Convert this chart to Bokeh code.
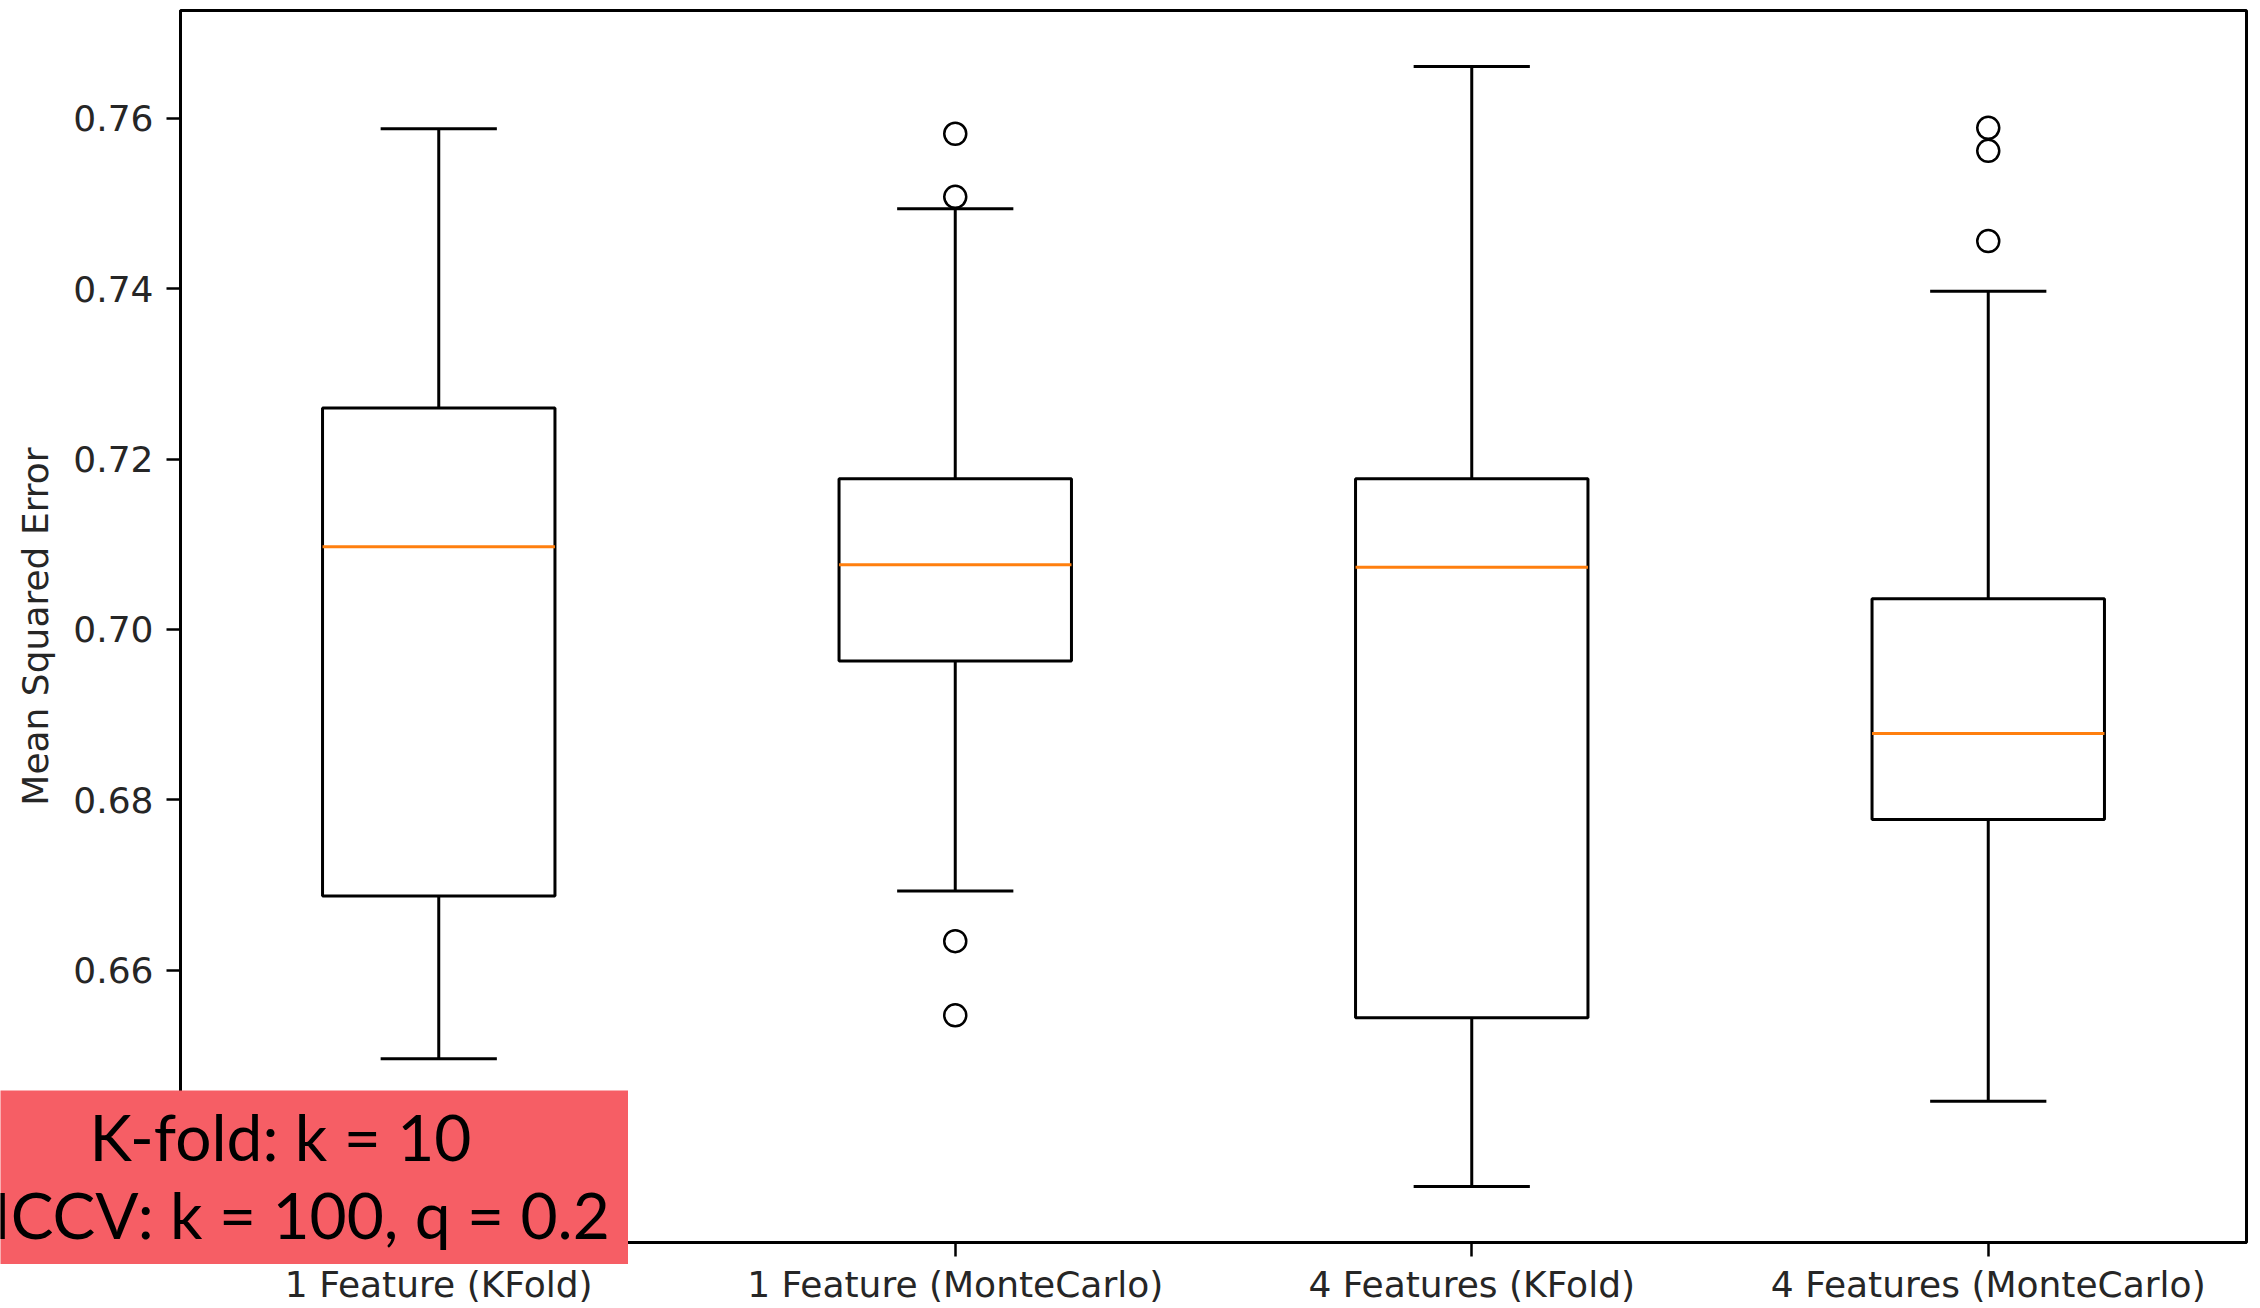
from bokeh.plotting import figure
from bokeh.models import FixedTicker, Label, PrintfTickFormatter
from bokeh.layouts import column
from bokeh.embed import file_html
from bokeh.resources import INLINE

# ---- data (boxplot statistics) ----
categories = ["1 Feature (KFold)", "1 Feature (MonteCarlo)",
              "4 Features (KFold)", "4 Features (MonteCarlo)"]
whisker_low = [0.6496, 0.6693, 0.6346, 0.6446]
q1 = [0.6687, 0.6963, 0.6544, 0.6777]
median = [0.7097, 0.7076, 0.7073, 0.6878]
q3 = [0.7260, 0.7177, 0.7177, 0.7036]
whisker_high = [0.7588, 0.7494, 0.7661, 0.7397]
outlier_group = [2, 2, 2, 2, 4, 4, 4]
outlier_values = [0.7582, 0.7508, 0.6634, 0.6547, 0.7589, 0.7562, 0.7456]
y_ticks = [0.64, 0.66, 0.68, 0.70, 0.72, 0.74, 0.76]
note_lines = ["K-fold: k = 10", "MCCV: k = 100, q = 0.2"]

positions = [i + 1 for i in range(len(categories))]
box_half = 0.225
cap_half = 0.1125

all_vals = whisker_low + whisker_high + outlier_values
lo, hi = min(all_vals), max(all_vals)
pad = 0.05 * (hi - lo)

FONT = "DejaVu Sans"
TXT = "#262626"
FS = "36px"

p = figure(width=2260, height=1308, output_backend="svg", toolbar_location=None,
           x_range=(0.5, 4.5), y_range=(lo - pad, hi + pad),
           min_border_left=180, min_border_right=14, min_border_top=10,
           min_border_bottom=66)
p.frame_align = False
p.grid.visible = False
p.background_fill_color = "white"
p.border_fill_color = "white"
p.outline_line_color = "black"
p.outline_line_width = 3

# whiskers
p.segment(x0=positions, x1=positions, y0=q3, y1=whisker_high, line_color="black", line_width=3)
p.segment(x0=positions, x1=positions, y0=q1, y1=whisker_low, line_color="black", line_width=3)
# caps
p.segment(x0=[x - cap_half for x in positions], x1=[x + cap_half for x in positions],
          y0=whisker_high, y1=whisker_high, line_color="black", line_width=3)
p.segment(x0=[x - cap_half for x in positions], x1=[x + cap_half for x in positions],
          y0=whisker_low, y1=whisker_low, line_color="black", line_width=3)
# boxes
p.quad(left=[x - box_half for x in positions], right=[x + box_half for x in positions],
       bottom=q1, top=q3, fill_color="white", line_color="black", line_width=3)
# medians
p.segment(x0=[x - box_half for x in positions], x1=[x + box_half for x in positions],
          y0=median, y1=median, line_color="#ff7f0e", line_width=3)
# outliers
p.scatter(x=outlier_group, y=outlier_values, marker="circle", size=22,
          fill_color=None, line_color="black", line_width=2.5)

# axes
xa = p.xaxis[0]
xa.ticker = FixedTicker(ticks=positions)
xa.major_label_overrides = {pos: c for pos, c in zip(positions, categories)}
ya = p.yaxis[0]
ya.ticker = FixedTicker(ticks=y_ticks)
ya.formatter = PrintfTickFormatter(format="%.2f")
ya.axis_label = "Mean Squared Error"
ya.axis_label_standoff = 14
for ax in (xa, ya):
    ax.axis_line_color = "black"
    ax.axis_line_width = 3
    ax.major_tick_in = 0
    ax.major_tick_out = 14
    ax.major_tick_line_width = 2.5
    ax.minor_tick_out = 0
    ax.minor_tick_in = 0
    ax.major_label_text_font = FONT
    ax.major_label_text_font_size = FS
    ax.major_label_text_color = TXT
    ax.axis_label_text_font = FONT
    ax.axis_label_text_font_size = FS
    ax.axis_label_text_font_style = "normal"
    ax.axis_label_text_color = TXT
xa.major_label_standoff = 7
ya.major_label_standoff = 13

# red note box, laid over the lower-left corner of the chart
RED = "#F65E65"
q = figure(width=628, height=174, output_backend="svg", toolbar_location=None,
           min_border=0, x_range=(0, 1), y_range=(0, 1))
q.frame_align = False
q.axis.visible = False
q.grid.visible = False
q.outline_line_color = None
q.background_fill_color = RED
q.border_fill_color = RED
for txt, yb in zip(note_lines, [128, 50]):
    q.add_layout(Label(x=280, y=yb, x_units="screen", y_units="screen", text=txt,
                       text_align="center", text_baseline="alphabetic",
                       text_font="Lato", text_font_size="64px", text_color="black"))
q.styles = {"position": "absolute", "left": "0px", "top": "1090px", "z-index": "10"}

layout = column(p, q, styles={"position": "relative"})
open("out.html", "w").write(file_html(layout, INLINE))
